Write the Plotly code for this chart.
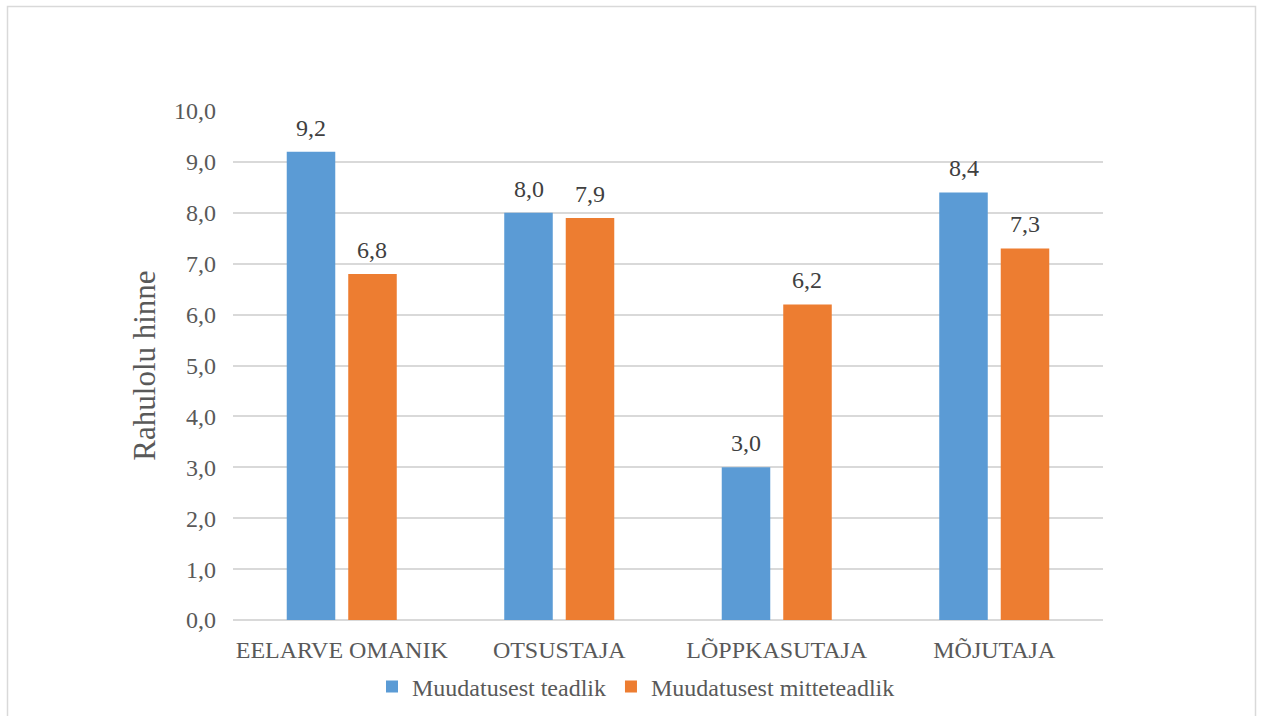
import plotly.graph_objects as go

# Satisfaction scores by stakeholder role
categories = ["EELARVE OMANIK", "OTSUSTAJA", "LÕPPKASUTAJA", "MÕJUTAJA"]
aware_values = [9.2, 8.0, 3.0, 8.4]
unaware_values = [6.8, 7.9, 6.2, 7.3]
series_names = ["Muudatusest teadlik", "Muudatusest mitteteadlik"]
y_ticks = [0, 1, 2, 3, 4, 5, 6, 7, 8, 9, 10]

BLUE = "#5B9BD5"
ORANGE = "#ED7D31"
TEXT = "#595959"
LABEL = "#404040"
GRID = "#D9D9D9"
FONT = "Liberation Serif"

W, H = 1261, 716
L, R, T, B = 233, 158, 111, 96
BARGAP, GROUPGAP = 0.4345, 0.211

pw, ph = W - L - R, H - T - B
slot_px = (1 - BARGAP) * (pw / len(categories)) / 2

fig = go.Figure()
series = [(series_names[0], aware_values, BLUE, -1),
          (series_names[1], unaware_values, ORANGE, 1)]
for name, vals, col, side in series:
    fig.add_trace(go.Bar(
        x=categories, y=vals, name=name,
        marker=dict(color=col, line=dict(width=0)),
    ))
    # value labels above each bar
    for cat, v in zip(categories, vals):
        fig.add_annotation(
            x=cat, y=v, xref="x", yref="y",
            text=f"{v:.1f}".replace(".", ","),
            showarrow=False, yanchor="bottom", xanchor="center",
            xshift=side * slot_px / 2, yshift=9,
            font=dict(family=FONT, size=24, color=LABEL),
        )

# outer chart-area frame
fig.add_shape(type="rect", xref="paper", yref="paper",
              x0=(7.5 - L) / pw, x1=(1255.5 - L) / pw,
              y0=(H - B - 730) / ph, y1=(H - B - 6.5) / ph,
              line=dict(color=GRID, width=1.5), fillcolor="rgba(0,0,0,0)",
              layer="below")

fig.update_layout(
    width=W, height=H,
    margin=dict(l=L, r=R, t=T, b=B, autoexpand=False),
    paper_bgcolor="white", plot_bgcolor="white",
    separators=", ",
    barmode="group", bargap=BARGAP, bargroupgap=GROUPGAP,
    font=dict(family=FONT, size=24, color=TEXT),
    showlegend=True,
    legend=dict(orientation="h", xref="container", yref="container",
                x=636 / W, xanchor="center", y=1 - 687 / H, yanchor="middle",
                font=dict(family=FONT, size=24, color=TEXT),
                itemwidth=30, traceorder="normal"),
    xaxis=dict(showgrid=False, showline=False, ticks="",
               tickfont=dict(family=FONT, size=24, color=TEXT),
               ticklabelstandoff=13),
    yaxis=dict(range=[0, 10], tickvals=y_ticks, tickformat=".1f",
               showgrid=True, gridcolor=GRID, gridwidth=1.5,
               zeroline=True, zerolinecolor=GRID, zerolinewidth=1.5,
               showline=False, ticks="",
               tickfont=dict(family=FONT, size=24, color=TEXT),
               ticklabelstandoff=16,
               title=dict(text="Rahulolu hinne", standoff=9,
                          font=dict(family=FONT, size=31, color=TEXT))),
)

fig.write_html("out.html")
